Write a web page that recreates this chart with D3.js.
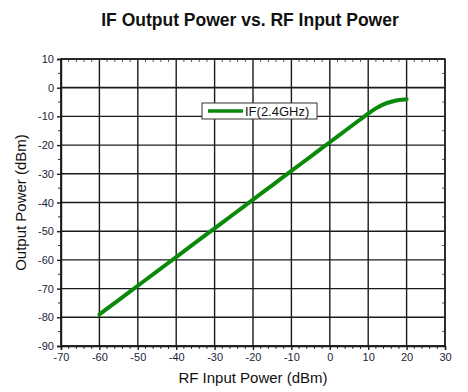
<!DOCTYPE html>
<html>
<head>
  <meta charset="utf-8">
  <script src="https://d3js.org/d3.v7.min.js"></script>
  <style>
    body { margin: 0; background: #fff; font-family: Arial, "Liberation Sans", sans-serif; }
    .tick text { fill: #1c1c3c; font-size: 11px; }
  </style>
</head>
<body>
  <svg id="chart" width="468" height="392"></svg>
  <script>
    const rfInput = [-60, -55, -50, -45, -40, -35, -30, -25, -20, -15, -10, -5, 0, 4, 8, 10, 12, 14, 16, 18, 20];
    const ifOutput = [-79, -74, -69, -64, -59, -54, -49, -44, -39, -34, -29, -24, -19, -15, -11, -9, -7.2, -5.8, -4.9, -4.3, -4];
    const xTicks = [-70, -60, -50, -40, -30, -20, -10, 0, 10, 20, 30];
    const yTicks = [10, 0, -10, -20, -30, -40, -50, -60, -70, -80, -90];
    const seriesName = "IF(2.4GHz)";

    const svg = d3.select("#chart");
    const margin = { top: 59, right: 23, bottom: 46, left: 61 };
    const W = 468, H = 392;
    const width = W - margin.left - margin.right;
    const height = H - margin.top - margin.bottom;

    const x = d3.scaleLinear().domain([-70, 30]).range([0, width]);
    const y = d3.scaleLinear().domain([-90, 10]).range([height, 0]);

    svg.append("text")
      .attr("x", 250).attr("y", 26)
      .attr("text-anchor", "middle")
      .attr("font-size", "17.5px").attr("font-weight", "bold")
      .attr("fill", "#111")
      .text("IF Output Power vs. RF Input Power");

    const g = svg.append("g").attr("transform", `translate(${margin.left},${margin.top})`);

    // grid
    g.append("g").selectAll("line").data(xTicks).join("line")
      .attr("x1", d => x(d)).attr("x2", d => x(d))
      .attr("y1", 0).attr("y2", height)
      .attr("stroke", "#1a1a1a").attr("stroke-width", 1.4);
    g.append("g").selectAll("line").data(yTicks).join("line")
      .attr("x1", 0).attr("x2", width)
      .attr("y1", d => y(d)).attr("y2", d => y(d))
      .attr("stroke", "#1a1a1a").attr("stroke-width", d => d === 0 ? 1.8 : 1.4);

    // minor ticks
    const xMinor = d3.range(-70, 31, 2).filter(d => d % 10 !== 0);
    const yMinor = d3.range(-85, 10, 10);
    g.append("g").selectAll("line").data(xMinor).join("line")
      .attr("x1", d => x(d)).attr("x2", d => x(d))
      .attr("y1", height).attr("y2", height + 3)
      .attr("stroke", "#333");
    g.append("g").selectAll("line").data(xMinor).join("line")
      .attr("x1", d => x(d)).attr("x2", d => x(d))
      .attr("y1", 0).attr("y2", 3)
      .attr("stroke", "#555");
    g.append("g").selectAll("line").data(yMinor).join("line")
      .attr("x1", -3).attr("x2", 0)
      .attr("y1", d => y(d)).attr("y2", d => y(d))
      .attr("stroke", "#333");
    g.append("g").selectAll("line").data(yMinor).join("line")
      .attr("x1", width - 3).attr("x2", width)
      .attr("y1", d => y(d)).attr("y2", d => y(d))
      .attr("stroke", "#555");

    // axes
    const fmt = d => String(d);
    const xAxis = g.append("g").attr("transform", `translate(0,${height})`)
      .call(d3.axisBottom(x).tickValues(xTicks).tickFormat(fmt).tickSize(4).tickPadding(3));
    const yAxis = g.append("g")
      .call(d3.axisLeft(y).tickValues(yTicks).tickFormat(fmt).tickSize(4).tickPadding(3));
    [xAxis, yAxis].forEach(a => {
      a.select(".domain").attr("stroke", "#1a1a1a").attr("stroke-width", 1.4);
      a.selectAll(".tick line").attr("stroke", "#1a1a1a").attr("stroke-width", 1.4);
    });

    g.append("rect").attr("width", width).attr("height", height)
      .attr("fill", "none").attr("stroke", "#1a1a1a").attr("stroke-width", 1.4);

    // series
    const line = d3.line().x((d, i) => x(rfInput[i])).y(d => y(d)).curve(d3.curveMonotoneX);
    g.append("path").datum(ifOutput)
      .attr("fill", "none").attr("stroke", "#0a8a0a")
      .attr("stroke-width", 4).attr("stroke-linecap", "round")
      .attr("d", line);

    // legend
    const leg = svg.append("g").attr("transform", "translate(202,103)");
    leg.append("rect").attr("width", 115).attr("height", 16)
      .attr("fill", "#fff").attr("stroke", "#333").attr("stroke-width", 1);
    leg.append("line").attr("x1", 6).attr("x2", 41).attr("y1", 8).attr("y2", 8)
      .attr("stroke", "#0a8a0a").attr("stroke-width", 3.5);
    leg.append("text").attr("x", 43).attr("y", 13)
      .attr("font-size", "13px").attr("fill", "#111").text(seriesName);

    // axis titles
    svg.append("text")
      .attr("x", margin.left + width / 2).attr("y", 383)
      .attr("text-anchor", "middle").attr("font-size", "15px").attr("fill", "#111")
      .text("RF Input Power (dBm)");
    svg.append("text")
      .attr("transform", `translate(26,${margin.top + height / 2}) rotate(-90)`)
      .attr("text-anchor", "middle").attr("font-size", "15px").attr("fill", "#111")
      .text("Output Power (dBm)");
  </script>
</body>
</html>
